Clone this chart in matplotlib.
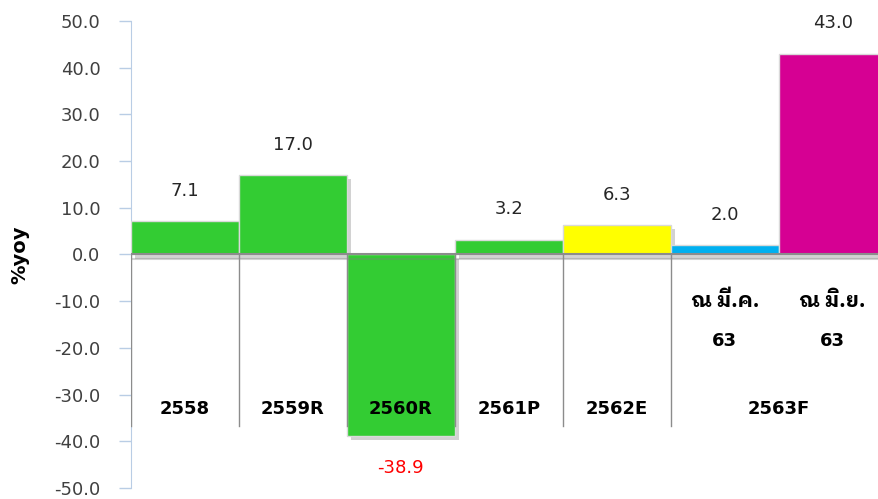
import matplotlib
matplotlib.use("Agg")
import matplotlib.pyplot as plt
import matplotlib.patheffects as pe

years = ["2558", "2559R", "2560R", "2561P", "2562E", "2563F"]
sub_top = ["ณ มี.ค.", "ณ มิ.ย."]
sub_bottom = ["63", "63"]
values = [7.1, 17.0, -38.9, 3.2, 6.3, 2.0, 43.0]
colors = ["#33cc33", "#33cc33", "#33cc33", "#33cc33", "#ffff00", "#00b0f0", "#d60093"]
yticks = [-50, -40, -30, -20, -10, 0, 10, 20, 30, 40, 50]

plt.rcParams["font.family"] = ["DejaVu Sans", "IBM Plex Sans Thai Looped"]

fig = plt.figure(figsize=(8.79, 4.99), dpi=100)
ax = fig.add_axes([0.149, 0.022, 0.851, 0.936])

x = list(range(len(values)))
shadow = [pe.SimplePatchShadow(offset=(3, -3), shadow_rgbFace="#808080", alpha=0.35), pe.Normal()]
bars = ax.bar(x, values, width=1.0, color=colors, edgecolor="#d9d9d9", linewidth=1, zorder=3)
for b in bars:
    b.set_path_effects(shadow)

# zero line
ax.axhline(0, color="#8c8c8c", lw=1.5, zorder=4,
           path_effects=[pe.SimpleLineShadow(offset=(1, -3), shadow_color="#808080", alpha=0.35), pe.Normal()])

# separators between year groups
for sx in [-0.5, 0.5, 1.5, 2.5, 3.5, 4.5]:
    ax.plot([sx, sx], [0, -36.8], color="#8c8c8c", lw=1, zorder=5)

# value labels
for xi, v in zip(x, values):
    if v >= 0:
        ax.text(xi, v + 6.5, "%.1f" % v, ha="center", va="center", fontsize=13, color="#262626", zorder=6)
    else:
        ax.text(xi, v - 6.8, "%.1f" % v, ha="center", va="center", fontsize=13, color="#ff0000", zorder=6)

# year labels
year_x = [0, 1, 2, 3, 4, 5.5]
for yx, name in zip(year_x, years):
    ax.text(yx, -33, name, ha="center", va="center", fontsize=13, fontweight="bold", color="black", zorder=6)

# sub labels for 2563F
for xi, t1, t2 in zip([5, 6], sub_top, sub_bottom):
    ax.text(xi, -10, t1, ha="center", va="center", fontsize=15, fontweight="bold", color="black",
            family=["IBM Plex Sans Thai Looped", "DejaVu Sans"], zorder=6)
    ax.text(xi, -18.6, t2, ha="center", va="center", fontsize=13, fontweight="bold", color="black", zorder=6)

ax.set_xlim(-0.5, 6.43)
ax.set_ylim(-50, 50)
ax.set_yticks(yticks)
ax.set_yticklabels(["%.1f" % t for t in yticks], fontsize=13, color="#404040")
ax.set_xticks([])
ax.tick_params(axis="y", direction="out", length=9, width=1, color="#b9cde5", pad=13)
for s in ["top", "right", "bottom"]:
    ax.spines[s].set_visible(False)
ax.spines["left"].set_color("#b9cde5")
ax.set_ylabel("%yoy", fontsize=14, fontweight="bold", labelpad=18)

fig.savefig("out.png", dpi=100)
